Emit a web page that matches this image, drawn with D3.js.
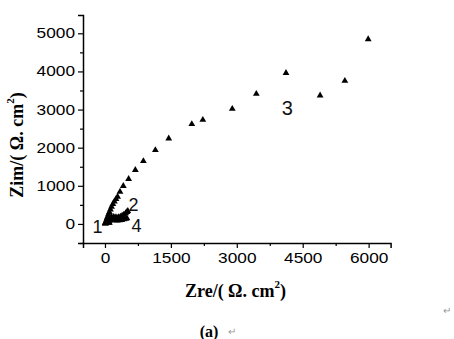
<!DOCTYPE html>
<html><head><meta charset="utf-8">
<script src="https://cdn.jsdelivr.net/npm/d3@7"></script>
<style>body{margin:0;background:#fff}svg{display:block}</style>
</head><body>
<svg id="c" width="454" height="339"></svg>
<script>
const xMajor = [0, 1500, 3000, 4500, 6000];
const xMinor = [750, 2250, 3750, 5250];
const yMajor = [0, 1000, 2000, 3000, 4000, 5000];
const yMinor = [-500, 500, 1500, 2500, 3500, 4500];

const s1x = [8, 15, 25, 38, 52, 68, 85, 100];
const s1y = [10, 22, 33, 40, 44, 42, 36, 30];
const s2x = [20, 45, 75, 110, 150, 190, 230, 270, 310, 350, 390, 430, 470, 500, 520];
const s2y = [35, 75, 115, 150, 175, 185, 180, 170, 175, 190, 215, 245, 280, 315, 340];
const s3x = [5, 15, 30, 45, 60, 80, 100, 125, 150, 180, 215, 250, 287, 342, 417, 538, 691, 874, 1147, 1451, 1976, 2227, 2897, 3444, 4120, 4896, 5459, 5990];
const s3y = [15, 45, 90, 140, 190, 250, 310, 380, 450, 520, 590, 650, 715, 846, 995, 1178, 1414, 1649, 1937, 2243, 2618, 2731, 3019, 3411, 3961, 3369, 3752, 4843];
const s4x = [15, 40, 70, 100, 140, 180, 230, 280, 330, 380, 430, 470, 500];
const s4y = [20, 45, 70, 85, 95, 100, 95, 90, 95, 105, 120, 135, 150];

const seriesNames = ["1", "2", "3", "4"];
const labelPos = [[-170, -240], [650, 330], [4150, 2850], [720, -200]];

const svg = d3.select("#c");
const x = d3.scaleLinear().domain([-500, 6500]).range([83, 390.6]);
const y = d3.scaleLinear().domain([-500, 5480]).range([243, 15]);

const font = "'Liberation Sans', Arial, sans-serif";
const fmt = d3.format("d");

// x axis
const gx = svg.append("g").attr("transform", `translate(0,${y(-500)})`);
gx.call(d3.axisBottom(x).tickValues(xMajor).tickFormat(fmt).tickSizeOuter(0).tickSize(5).tickPadding(3));
gx.append("g").call(d3.axisBottom(x).tickValues(xMinor).tickSize(3).tickFormat("")).select(".domain").remove();
// y axis
const gy = svg.append("g").attr("transform", `translate(${x(-500)},0)`);
gy.call(d3.axisLeft(y).tickValues(yMajor).tickFormat(fmt).tickSizeOuter(0).tickSize(5).tickPadding(3));
gy.append("g").call(d3.axisLeft(y).tickValues(yMinor).tickSize(3).tickFormat("")).select(".domain").remove();

svg.selectAll(".domain").attr("stroke", "#000").attr("stroke-width", 1.5);
svg.selectAll(".tick line").attr("stroke", "#000").attr("stroke-width", 1.2);
svg.selectAll(".tick text")
  .attr("font-family", font).attr("font-size", 14).attr("fill", "#000")
  .each(function() {
    const t = d3.select(this).text();
    if (t) d3.select(this).attr("textLength", 9.6 * t.length).attr("lengthAdjust", "spacingAndGlyphs");
  });
gx.selectAll(".tick text").attr("dy", "0.85em");

// data
const series = [[s1x, s1y], [s2x, s2y], [s3x, s3y], [s4x, s4y]];
const tri = d3.symbol().type(d3.symbolTriangle).size(20);
series.forEach(([sx, sy], i) => {
  svg.append("g").selectAll("path").data(sx.map((v, j) => [v, sy[j]])).join("path")
    .attr("d", tri)
    .attr("transform", d => `translate(${x(d[0])},${y(d[1])})`)
    .attr("fill", "#000");
});

// series labels
svg.append("g").selectAll("text").data(seriesNames).join("text")
  .attr("x", (d, i) => x(labelPos[i][0]))
  .attr("y", (d, i) => y(labelPos[i][1]))
  .attr("text-anchor", "middle")
  .attr("font-family", font)
  .attr("font-size", (d, i) => i === 2 ? 20 : 18)
  .attr("fill", "#111")
  .text(d => d);

// axis titles
const tf = "'Liberation Serif', 'DejaVu Serif', serif";
const xt = svg.append("text").attr("x", 235.5).attr("y", 297).attr("text-anchor", "middle")
  .attr("font-family", tf).attr("font-weight", "bold").attr("font-size", 18).attr("fill", "#000");
xt.append("tspan").text("Zre/( Ω. cm");
xt.append("tspan").attr("font-size", 11).attr("dy", -9).attr("dx", 0).text("2");
xt.append("tspan").attr("dy", 9).text(")");

const yt = svg.append("text").attr("transform", "translate(22.5,145) rotate(-90)").attr("text-anchor", "middle")
  .attr("font-family", tf).attr("font-weight", "bold").attr("font-size", 18).attr("fill", "#000");
yt.append("tspan").text("Zim/( Ω. cm");
yt.append("tspan").attr("font-size", 11).attr("dy", -9).attr("dx", 0).text("2");
yt.append("tspan").attr("dy", 9).text(")");

// caption
svg.append("text").attr("x", 209).attr("y", 337).attr("text-anchor", "middle")
  .attr("font-family", tf).attr("font-weight", "bold").attr("font-size", 16).attr("fill", "#000").text("(a)");
svg.append("text").attr("x", 232).attr("y", 335).attr("text-anchor", "middle")
  .attr("font-family", font).attr("font-size", 10).attr("fill", "#999").text("↵");
svg.append("text").attr("x", 447).attr("y", 314).attr("text-anchor", "middle")
  .attr("font-family", font).attr("font-size", 10).attr("fill", "#999").text("↵");
</script>
</body></html>
